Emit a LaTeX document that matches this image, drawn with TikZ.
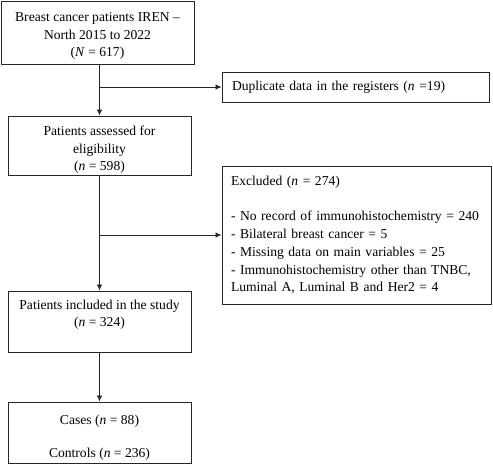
\documentclass[tikz,border=0pt]{standalone}
\usepackage{fontspec}
\setmainfont{Liberation Serif}
\usetikzlibrary{arrows.meta}
\newcommand{\topstrut}[1]{\rule{0pt}{#1}}
\begin{document}
\begin{tikzpicture}[x=1pt,y=1pt,
  font=\fontsize{13.6}{17.7}\selectfont,
  boxc/.style={draw=black!85, line width=0.9pt, align=center, inner sep=0pt},
  boxl/.style={draw=black!85, line width=0.9pt, align=left, inner sep=0pt},
  arr/.style={draw=black!85, line width=0.8pt, -{Latex[length=6pt,width=5.5pt]}}]
\useasboundingbox (0,0) rectangle (493,-464);
\node[boxc, minimum width=193, minimum height=63] (b1) at (97.5,-32.5)
  {\topstrut{16pt}Breast cancer patients IREN –\\North 2015 to 2022\\(\textit{N} = 617)};
\node[boxl, minimum width=267, minimum height=30, text width=247] (b2) at (355.5,-87)
  {Duplicate data in the registers (\textit{n} =19)};
\node[boxc, minimum width=183, minimum height=59] (b3) at (99.5,-145.5)
  {\topstrut{18pt}Patients assessed for\\eligibility\\(\textit{n} = 598)};
\node[boxl, minimum width=269, minimum height=138, text width=251] (b5) at (356.5,-235)
  {Excluded (\textit{n} = 274)\\[17.7pt]
   - No record of immunohistochemistry = 240\\
   - Bilateral breast cancer = 5\\
   - Missing data on main variables = 25\\
   - Immunohistochemistry other than TNBC,\\
   Luminal A, Luminal B and Her2 = 4};
\node[boxc, minimum width=183, minimum height=61] (b4) at (99.5,-321.5)
  {\topstrut{16pt}Patients included in the study\\(\textit{n} = 324)\\\strut};
\node[boxc, minimum width=183, minimum height=61] (b6) at (99.5,-432.5)
  {\topstrut{20pt}Cases (\textit{n} = 88)\\[16pt]Controls (\textit{n} = 236)};
\coordinate (j1) at (99.5,-87);
\coordinate (j2) at (99.5,-235);
\draw[arr] (b1.south -| b3.north) -- (b3.north);
\draw[arr] (j1) -- (b2.west);
\draw[arr] (b3.south) -- (b4.north);
\draw[arr] (j2) -- (b5.west);
\draw[arr] (b4.south) -- (b6.north);
\end{tikzpicture}
\end{document}
